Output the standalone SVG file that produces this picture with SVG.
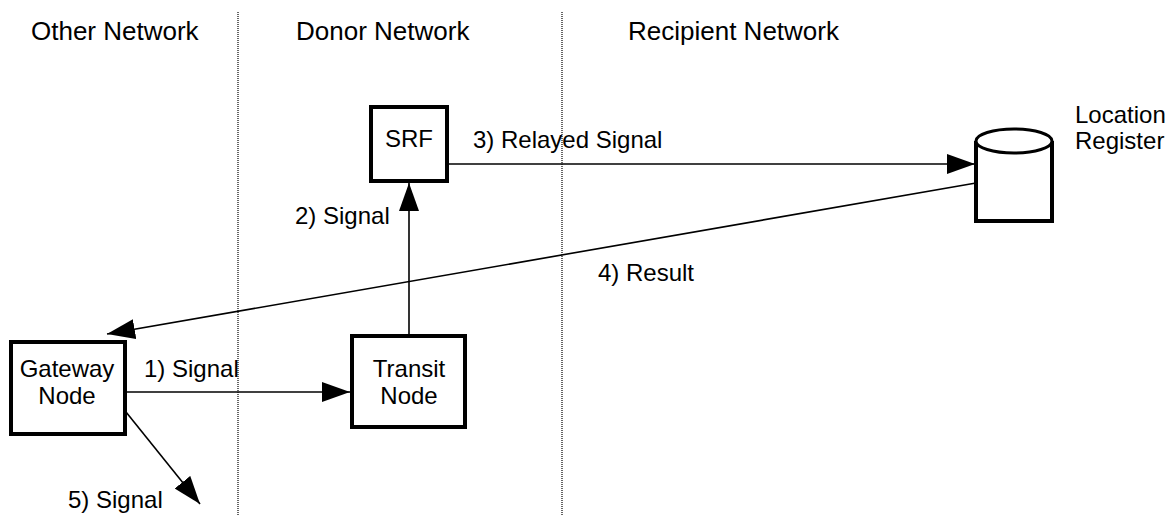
<svg xmlns="http://www.w3.org/2000/svg" width="1176" height="516" viewBox="0 0 1176 516">
  <style>
    text { font-family: "Liberation Sans", Arial, sans-serif; fill: #000; }
    .hdr { font-size: 26px; }
    .lbl { font-size: 24px; }
    .node { font-size: 24px; text-anchor: middle; }
    .box { fill: #fff; stroke: #000; stroke-width: 4; }
    .conn { fill: none; stroke: #000; stroke-width: 1.6; }
    .sep { stroke: #000; stroke-width: 1.2; stroke-dasharray: 1 1; fill: none; }
  </style>
  <defs>
    <marker id="arrow" markerUnits="userSpaceOnUse" markerWidth="30" markerHeight="22" refX="28" refY="10" orient="auto">
      <path d="M0,0 L28,10 L0,20 z" fill="#000"/>
    </marker>
  </defs>
  <rect width="1176" height="516" fill="#fff"/>

  <g id="separators">
    <line class="sep" x1="238" y1="12" x2="238" y2="516"/>
    <line class="sep" x1="562" y1="12" x2="562" y2="516"/>
  </g>

  <g id="headers">
    <text class="hdr" x="31" y="40">Other Network</text>
    <text class="hdr" x="296" y="40">Donor Network</text>
    <text class="hdr" x="628" y="40">Recipient Network</text>
  </g>

  <g id="connectors">
    <line class="conn" x1="126" y1="392" x2="350" y2="392" marker-end="url(#arrow)"/>
    <line class="conn" x1="409" y1="334" x2="409" y2="183" marker-end="url(#arrow)"/>
    <line class="conn" x1="448" y1="164" x2="975" y2="164" marker-end="url(#arrow)"/>
    <line class="conn" x1="976" y1="183" x2="107" y2="334" marker-end="url(#arrow)"/>
    <line class="conn" x1="126" y1="412" x2="200" y2="504" marker-end="url(#arrow)"/>
    <text class="lbl" x="144" y="377">1) Signal</text>
    <text class="lbl" x="295" y="224">2) Signal</text>
    <text class="lbl" x="473" y="148">3) Relayed Signal</text>
    <text class="lbl" x="598" y="281">4) Result</text>
    <text class="lbl" x="68" y="508">5) Signal</text>
  </g>

  <g id="gateway">
    <rect class="box" x="11" y="342" width="114" height="92"/>
    <text class="node" x="67" y="377">Gateway</text>
    <text class="node" x="67" y="404">Node</text>
  </g>

  <g id="transit">
    <rect class="box" x="352" y="336" width="113" height="91"/>
    <text class="node" x="409" y="377">Transit</text>
    <text class="node" x="409" y="404">Node</text>
  </g>

  <g id="srf">
    <rect class="box" x="371" y="107" width="76" height="74"/>
    <text class="node" x="409" y="147">SRF</text>
  </g>

  <g id="location-register">
    <path d="M976,141 L976,221 L1052,221 L1052,141" fill="#fff" stroke="#000" stroke-width="4"/>
    <ellipse cx="1014" cy="141" rx="38" ry="12" fill="#fff" stroke="#000" stroke-width="3"/>
    <text class="lbl" x="1075" y="123">Location</text>
    <text class="lbl" x="1075" y="149">Register</text>
  </g>
</svg>
